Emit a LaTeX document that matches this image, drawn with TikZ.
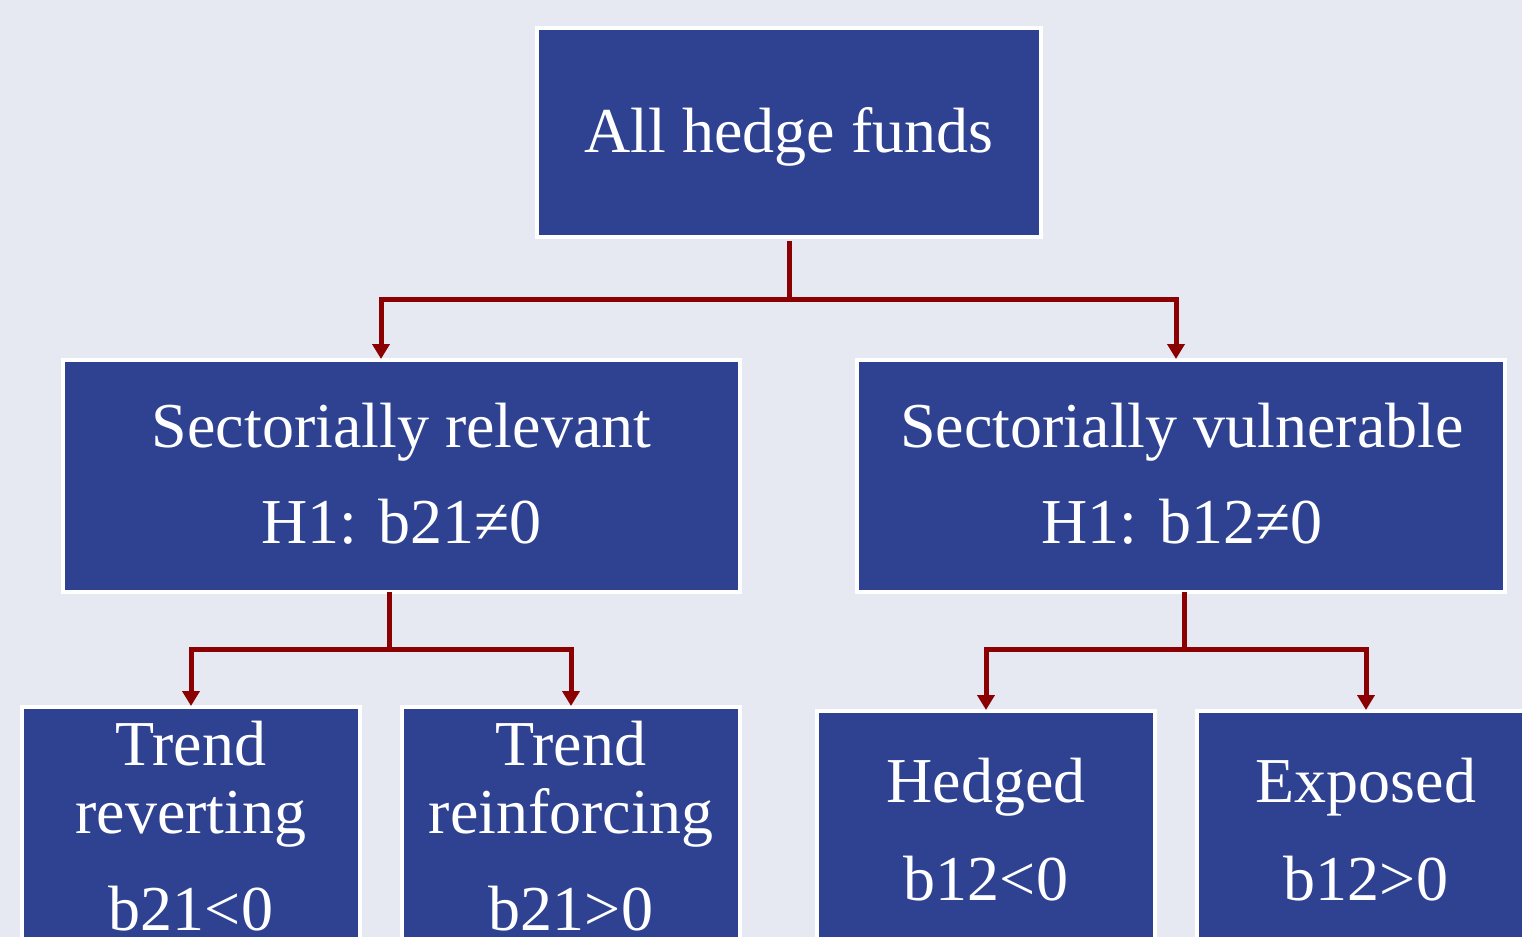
\documentclass[tikz,border=0pt]{standalone}
\usepackage{fontspec}
\setmainfont{Liberation Serif}
\usetikzlibrary{arrows.meta}
\definecolor{bgcol}{RGB}{230,233,241}
\definecolor{boxblue}{RGB}{46,66,145}
\definecolor{connred}{RGB}{139,0,0}
\begin{document}
\begin{tikzpicture}[x=0.5pt,y=-0.5pt,
  box/.style={draw=white,fill=boxblue,line width=2pt,rectangle,inner sep=0pt,outer sep=0pt},
  lbl/.style={text=white,font=\fontsize{32}{32}\selectfont,anchor=base,inner sep=0pt},
  conn/.style={draw=connred,line width=2.5pt,-{Triangle[width=8.5pt,length=7.5pt]}},
  link/.style={draw=connred,line width=2.5pt}]
\useasboundingbox (0,0) rectangle (1522,937);
\fill[bgcol] (0,0) rectangle (1522,937);
% boxes (path at mid-border)
\node[box,minimum width=252pt,minimum height=104.5pt] (top) at (789,132.5) {};
\node[box,minimum width=338.5pt,minimum height=116pt] (ml) at (401.5,476) {};
\node[box,minimum width=324pt,minimum height=116pt] (mr) at (1181,476) {};
\node[box,minimum width=169pt,minimum height=150pt] (b1) at (191,857) {};
\node[box,minimum width=169pt,minimum height=150pt] (b2) at (571,857) {};
\node[box,minimum width=169pt,minimum height=150pt] (b3) at (986,861) {};
\node[box,minimum width=169pt,minimum height=150pt] (b4) at (1366,861) {};
% texts
\node[lbl] (t0) at (789,152) {All hedge funds};
\node[lbl] (t1a) at (401.5,447) {Sectorially relevant};
\node[lbl] (t1b) at (401.5,543) {H1: b21≠0};
\node[lbl] (t2a) at (1182,447) {Sectorially vulnerable};
\node[lbl] (t2b) at (1182,543) {H1: b12≠0};
\node[lbl] (t3a) at (191,765) {Trend};
\node[lbl] (t3b) at (191,833) {reverting};
\node[lbl] (t3c) at (191,930) {b21<0};
\node[lbl] (t4a) at (571,765) {Trend};
\node[lbl] (t4b) at (571,833) {reinforcing};
\node[lbl] (t4c) at (571,930) {b21>0};
\node[lbl] (t5a) at (986,802) {Hedged};
\node[lbl] (t5b) at (986,900) {b12<0};
\node[lbl] (t6a) at (1366,802) {Exposed};
\node[lbl] (t6b) at (1366,900) {b12>0};
% connectors
\coordinate (j0) at ([yshift=-31pt]top.south);
\draw[link,shorten <=2pt] (top.south) -- (j0);
\draw[conn] (j0) -| ([xshift=-10.25pt,yshift=0.5pt]ml.north);
\draw[conn] (j0) -| ([xshift=-2.5pt,yshift=0.5pt]mr.north);
\coordinate (j1) at ([xshift=-6.25pt,yshift=-28.5pt]ml.south);
\draw[link] ([xshift=-6.25pt]ml.south) -- (j1);
\draw[conn] (j1) -| ([yshift=0.5pt]b1.north);
\draw[conn] (j1) -| ([yshift=0.5pt]b2.north);
\coordinate (j2) at ([xshift=1.5pt,yshift=-28.5pt]mr.south);
\draw[link] ([xshift=1.5pt]mr.south) -- (j2);
\draw[conn] (j2) -| ([yshift=0.5pt]b3.north);
\draw[conn] (j2) -| ([yshift=0.5pt]b4.north);
\end{tikzpicture}
\end{document}
